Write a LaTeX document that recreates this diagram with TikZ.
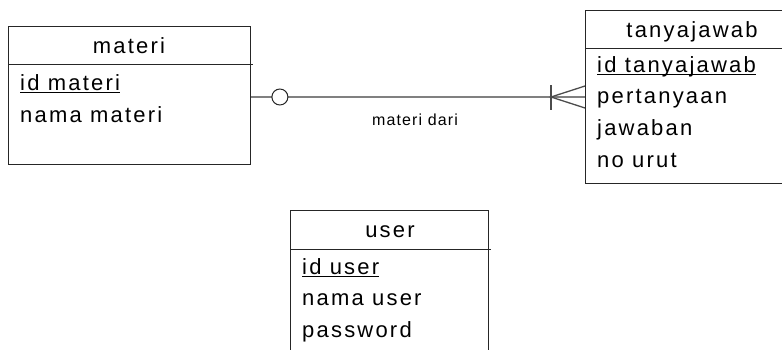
\documentclass[tikz,border=0pt]{standalone}
\usepackage{fontspec}
\setmainfont{Liberation Sans}[LetterSpace=10]
\newfontfamily\lblfont{Liberation Sans}[LetterSpace=7]
\begin{document}
\begin{tikzpicture}[x=1pt,y=-1pt,
  ent/.style={draw=black!85, line width=0.9pt, anchor=north west, inner sep=0pt},
  hline/.style={draw=black!85, line width=0.9pt},
  attr/.style={anchor=base west, inner sep=0pt, font=\fontsize{22}{26}\selectfont},
  ttl/.style={anchor=base, inner sep=0pt, font=\fontsize{22}{26}\selectfont},
  uline/.style={draw=black, line width=1.6pt},
  rel/.style={draw=black!50, line width=1.3pt}]
\clip (0,0) rectangle (782,349);
% materi
\node[ent, minimum width=242pt, minimum height=138pt] (materi) at (8,26) {};
\draw[hline] ([yshift=-38pt]materi.north west) -- ++(245,0);
\node[ttl] (tm) at (129,53) {materi};
\node[attr] (m1) at (20,90) {id materi};
\draw[uline] ([yshift=-2.5pt]m1.base west) -- ([yshift=-2.5pt]m1.base east);
\node[attr] (m2) at (20,122) {nama materi};
% tanyajawab
\node[ent, minimum width=215pt, minimum height=173pt] (tj) at (585,10) {};
\draw[hline] ([yshift=-38pt]tj.north west) -- ++(215,0);
\node[ttl] (tt) at (692,37) {tanyajawab};
\node[attr] (t1) at (597,72) {id tanyajawab};
\draw[uline] ([yshift=-2.5pt]t1.base west) -- ([yshift=-2.5pt]t1.base east);
\node[attr] (t2) at (597,103) {pertanyaan};
\node[attr] (t3) at (597,135) {jawaban};
\node[attr] (t4) at (597,167) {no urut};
% user
\node[ent, minimum width=198pt, minimum height=160pt] (us) at (290,210) {};
\draw[hline] ([yshift=-39pt]us.north west) -- ++(201,0);
\node[ttl] (ut) at (390,237) {user};
\node[attr] (u1) at (302,274) {id user};
\draw[uline] ([yshift=-2.5pt]u1.base west) -- ([yshift=-2.5pt]u1.base east);
\node[attr] (u2) at (302,305) {nama user};
\node[attr] (u3) at (302,337) {password};
% relationship
\coordinate (c1) at (materi.east |- 0,97);
\coordinate (c2) at (tj.west |- 0,97);
\draw[rel] (c1) -- (c2);
\draw[rel, draw=black!70] ([xshift=-34pt]c2) ++(0,-12) -- ++(0,25);
\draw[rel, draw=black!70] ([yshift=11pt]c2) -- ([xshift=-34pt]c2) -- ([yshift=-11pt]c2);
\node[circle, draw=black!85, line width=1pt, fill=white, minimum size=16pt, inner sep=0pt] (o) at ([xshift=29pt]c1) {};
\node[font=\lblfont\fontsize{16}{18}\selectfont, inner sep=0pt] (lab) at (415,120) {materi dari};
\end{tikzpicture}
\end{document}
